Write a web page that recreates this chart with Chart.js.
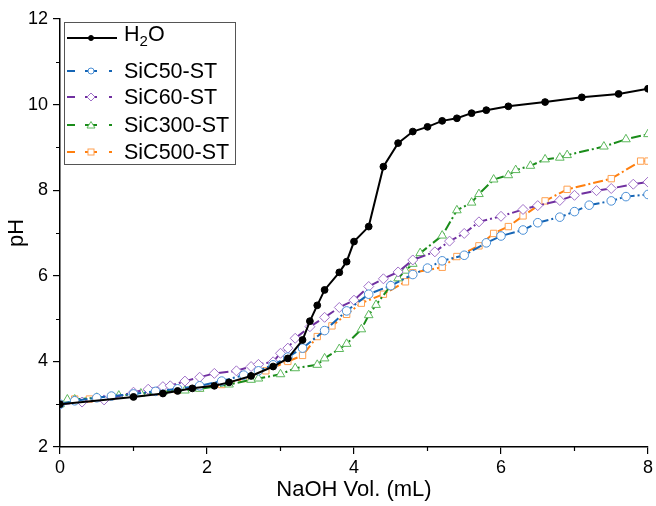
<!DOCTYPE html>
<html>
<head>
<meta charset="utf-8">
<script src="https://cdn.jsdelivr.net/npm/chart.js@4"></script>
<style>
  body { margin: 0; background: #fff; }
  #wrap { position: relative; width: 656px; height: 506px; }
  #legend {
    position: absolute; left: 64px; top: 22px; width: 172px; height: 143px;
    border: 1px solid #555; background: #fff; box-sizing: border-box;
    font-family: "Liberation Sans", Arial, sans-serif; font-size: 21.5px; color: #000;
  }
  #legend .row { position: absolute; left: 0; height: 26px; display: flex; align-items: center; white-space: nowrap; }
  #legend svg { display: block; }
  #legend span { margin-left: 5px; line-height: 26px; }
</style>
</head>
<body>
<div id="wrap">
  <canvas id="phChart" width="656" height="506"></canvas>
  <div id="legend"></div>
</div>
<script>
// --- DATA ---
var seriesNames = ['H₂O', 'SiC50-ST', 'SiC60-ST', 'SiC300-ST', 'SiC500-ST'];

var h2oX = [0, 1.0, 1.4, 1.6, 1.8, 2.1, 2.3, 2.6, 2.9, 3.1, 3.3, 3.4, 3.5, 3.6, 3.8, 3.9, 4.0, 4.2, 4.4, 4.6, 4.8, 5.0, 5.2, 5.4, 5.6, 5.8, 6.1, 6.6, 7.1, 7.6, 8.0];
var h2oY = [3.0, 3.17, 3.25, 3.31, 3.37, 3.43, 3.51, 3.66, 3.88, 4.07, 4.5, 4.94, 5.31, 5.67, 6.08, 6.33, 6.8, 7.15, 8.55, 9.1, 9.37, 9.48, 9.62, 9.68, 9.8, 9.87, 9.96, 10.06, 10.17, 10.25, 10.37];

var sic50X = [0, 0.2, 0.5, 0.7, 1.0, 1.3, 1.6, 1.9, 2.2, 2.5, 2.7, 2.9, 3.1, 3.3, 3.6, 3.9, 4.2, 4.5, 4.8, 5.0, 5.2, 5.5, 5.8, 6.0, 6.3, 6.5, 6.8, 7.0, 7.2, 7.5, 7.7, 8.0];
var sic50Y = [3.0, 3.08, 3.15, 3.19, 3.24, 3.3, 3.36, 3.43, 3.54, 3.68, 3.78, 3.92, 4.1, 4.31, 4.72, 5.18, 5.57, 5.77, 6.03, 6.18, 6.35, 6.48, 6.77, 6.93, 7.07, 7.24, 7.37, 7.5, 7.65, 7.75, 7.85, 7.9];

var sic60X = [0, 0.3, 0.6, 1.0, 1.2, 1.4, 1.5, 1.7, 1.9, 2.1, 2.4, 2.6, 2.7, 2.9, 3.0, 3.1, 3.2, 3.4, 3.6, 3.8, 4.0, 4.2, 4.4, 4.6, 4.8, 5.1, 5.3, 5.5, 5.7, 6.0, 6.3, 6.5, 6.8, 7.0, 7.3, 7.5, 7.8, 8.0];
var sic60Y = [3.0, 3.05, 3.1, 3.28, 3.35, 3.41, 3.43, 3.54, 3.63, 3.72, 3.78, 3.88, 3.93, 3.99, 4.19, 4.31, 4.54, 4.81, 5.03, 5.26, 5.43, 5.75, 5.93, 6.09, 6.37, 6.56, 6.81, 6.99, 7.26, 7.39, 7.55, 7.64, 7.76, 7.88, 7.99, 8.04, 8.14, 8.19];

var sic300X = [0, 0.1, 0.2, 0.5, 0.8, 1.1, 1.4, 1.7, 1.9, 2.3, 2.6, 2.7, 3.0, 3.2, 3.5, 3.6, 3.8, 3.9, 4.1, 4.2, 4.3, 4.5, 4.6, 4.7, 4.8, 4.9, 5.2, 5.4, 5.6, 5.7, 5.9, 6.1, 6.2, 6.4, 6.6, 6.8, 6.9, 7.4, 7.7, 8.0];
var sic300Y = [3.0, 3.11, 3.11, 3.15, 3.2, 3.25, 3.29, 3.32, 3.36, 3.46, 3.57, 3.6, 3.7, 3.84, 3.92, 4.07, 4.29, 4.41, 4.75, 5.08, 5.32, 5.77, 5.94, 6.12, 6.28, 6.53, 6.94, 7.53, 7.71, 7.91, 8.25, 8.35, 8.47, 8.57, 8.72, 8.76, 8.82, 9.02, 9.19, 9.31];

var sic500X = [0, 0.2, 0.4, 0.7, 1.0, 1.3, 1.6, 1.9, 2.2, 2.5, 2.8, 3.1, 3.3, 3.5, 3.7, 3.9, 4.1, 4.4, 4.7, 4.8, 5.2, 5.4, 5.7, 5.9, 6.1, 6.3, 6.6, 6.9, 7.5, 7.9, 8.0];
var sic500Y = [3.0, 3.12, 3.12, 3.18, 3.24, 3.28, 3.33, 3.38, 3.46, 3.6, 3.78, 4.0, 4.14, 4.58, 4.83, 5.1, 5.36, 5.57, 5.86, 6.07, 6.2, 6.45, 6.7, 6.99, 7.15, 7.4, 7.75, 8.02, 8.27, 8.68, 8.68];

var xTicks = [0, 2, 4, 6, 8];
var yTicks = [2, 4, 6, 8, 10, 12];
var xMinor = [1, 3, 5, 7];
var yMinor = [3, 5, 7, 9, 11];

// --- STYLES ---
var styles = [
  { line: '#000000', mark: '#000000', fill: '#000000', shape: 'circle', r: 3.4, dash: [] },
  { line: '#1565b5', mark: '#4a8fd6', fill: '#ffffff', shape: 'circle', r: 4.3, dash: [10, 3, 2, 3] },
  { line: '#7030a0', mark: '#a070c8', fill: '#ffffff', shape: 'rectRot', r: 5, dash: [10, 3, 2, 3] },
  { line: '#1a8c1a', mark: '#5cb85c', fill: '#ffffff', shape: 'triangle', r: 5, dash: [10, 3, 2, 3] },
  { line: '#ff7f0e', mark: '#ffa050', fill: '#ffffff', shape: 'rect', r: 4.5, dash: [10, 3, 2, 3] }
];

function toPoints(xs, ys) {
  return xs.map(function (x, i) { return { x: x, y: ys[i] }; });
}

var allX = [h2oX, sic50X, sic60X, sic300X, sic500X];
var allY = [h2oY, sic50Y, sic60Y, sic300Y, sic500Y];

// colored series drawn under the black H2O curve
var datasets = [];
for (var i = 0; i < 5; i++) {
  var s = styles[i];
  datasets.push({
    label: seriesNames[i],
    data: toPoints(allX[i], allY[i]),
    borderColor: s.line,
    borderWidth: 2,
    borderDash: s.dash,
    tension: 0,
    pointStyle: s.shape,
    pointRadius: s.r,
    pointBorderWidth: 1,
    pointBorderColor: s.mark,
    pointBackgroundColor: s.fill,
    order: i === 0 ? 0 : 1
  });
}

// minor tick marks at odd values, placed through the scales
var minorTicks = {
  id: 'minorTicks',
  afterDraw: function (chart) {
    var c = chart.ctx, xs = chart.scales.x, ys = chart.scales.y;
    c.save();
    c.strokeStyle = '#000';
    c.lineWidth = 1.2;
    c.beginPath();
    xMinor.forEach(function (v) {
      var px = Math.round(xs.getPixelForValue(v)) + 0.5;
      c.moveTo(px, xs.top); c.lineTo(px, xs.top + 4);
    });
    yMinor.forEach(function (v) {
      var py = Math.round(ys.getPixelForValue(v)) + 0.5;
      c.moveTo(ys.right - 4, py); c.lineTo(ys.right, py);
    });
    c.stroke();
    c.restore();
  }
};

var fontFam = '"Liberation Sans", Arial, sans-serif';

var phChart = new Chart(document.getElementById('phChart').getContext('2d'), {
  type: 'line',
  data: { datasets: datasets },
  options: {
    responsive: false,
    animation: false,
    layout: { padding: { left: 4, right: 7, top: 19, bottom: 0 } },
    plugins: { legend: { display: false }, tooltip: { enabled: false } },
    scales: {
      x: {
        type: 'linear', min: 0, max: 8,
        afterFit: function (scale) { scale.height = 59; },
        afterBuildTicks: function (scale) { scale.ticks = xTicks.map(function (v) { return { value: v }; }); },
        border: { color: '#000', width: 1.5 },
        grid: { drawOnChartArea: false, color: '#000', tickLength: 7, lineWidth: 1.2 },
        ticks: { color: '#000', font: { family: fontFam, size: 18 }, padding: 3, maxRotation: 0 },
        title: { display: true, text: 'NaOH Vol. (mL)', color: '#000', font: { family: fontFam, size: 22 }, padding: { top: 0, bottom: 3 } }
      },
      y: {
        type: 'linear', min: 2, max: 12,
        afterFit: function (scale) { scale.width = 56; },
        afterBuildTicks: function (scale) { scale.ticks = yTicks.map(function (v) { return { value: v }; }); },
        border: { color: '#000', width: 1.5 },
        grid: { drawOnChartArea: false, color: '#000', tickLength: 7, lineWidth: 1.2 },
        ticks: { color: '#000', font: { family: fontFam, size: 18 }, padding: 5 },
        title: { display: true, text: 'pH', color: '#000', font: { family: fontFam, size: 22 }, padding: { top: 0, bottom: 0 } }
      }
    }
  },
  plugins: [minorTicks]
});

// --- HTML legend (real text, with subscript) ---
var legend = document.getElementById('legend');
var rowTops = [2, 35, 61, 89, 116];
var labelsHtml = ['H<sub style="font-size:15px">2</sub>O', 'SiC50-ST', 'SiC60-ST', 'SiC300-ST', 'SiC500-ST'];
styles.forEach(function (s, i) {
  var mk;
  if (s.shape === 'circle') mk = '<circle cx="26" cy="13" r="' + (i === 0 ? 2.5 : 3) + '" fill="' + s.fill + '" stroke="' + s.mark + '"/>';
  else if (s.shape === 'rectRot') mk = '<polygon points="26,9 30,13 26,17 22,13" fill="#fff" stroke="' + s.mark + '"/>';
  else if (s.shape === 'triangle') mk = '<polygon points="26,9.5 30,16 22,16" fill="#fff" stroke="' + s.mark + '"/>';
  else mk = '<rect x="23" y="10" width="6" height="6" fill="#fff" stroke="' + s.mark + '"/>';
  var dash = s.dash.length ? ' stroke-dasharray="8,10,12,12,3,10"' : '';
  var svg = '<svg width="54" height="26"><line x1="2" y1="13" x2="52" y2="13" stroke="' + s.line + '" stroke-width="2"' + dash + '/>' + mk + '</svg>';
  var row = document.createElement('div');
  row.className = 'row';
  row.style.top = rowTops[i] + 'px';
  row.innerHTML = svg + '<span>' + labelsHtml[i] + '</span>';
  legend.appendChild(row);
});
</script>
</body>
</html>
